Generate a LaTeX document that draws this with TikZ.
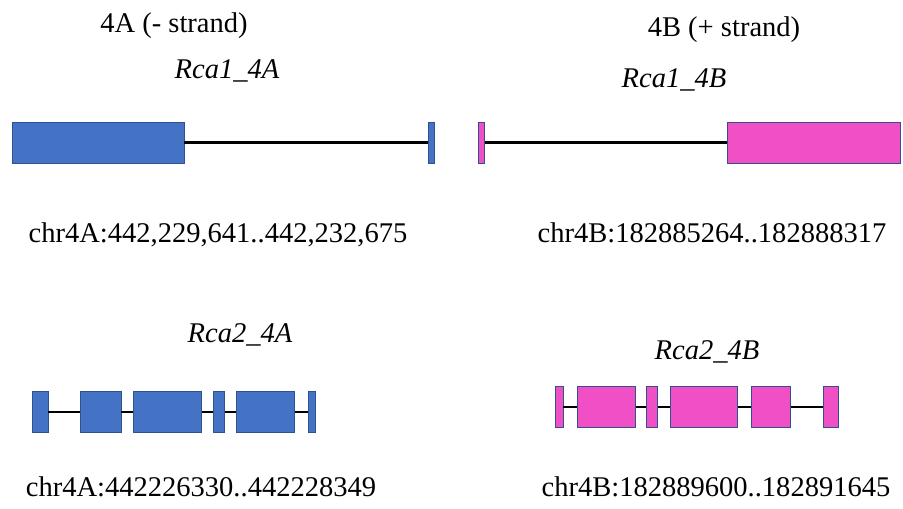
\documentclass[tikz,border=0pt]{standalone}
\usepackage{fontspec}
\setmainfont{Liberation Serif}
\usetikzlibrary{fit}

\definecolor{exonblue}{RGB}{68,114,196}
\definecolor{exonpink}{RGB}{241,79,197}
\definecolor{exonedge}{RGB}{47,82,143}

\tikzset{
    exonA/.style={draw=exonedge, fill=exonblue, line width=0.6pt, inner sep=0pt},
    exonB/.style={draw=exonedge, fill=exonpink, line width=0.6pt, inner sep=0pt},
    intron/.style={line width=1.8pt, black},
    lbl/.style={anchor=base, inner sep=0pt, font=\fontsize{21.4}{25}\selectfont},
    genename/.style={lbl, font=\fontsize{21.4}{25}\selectfont\itshape}
}

\begin{document}
\begin{tikzpicture}[x=0.75pt, y=-0.75pt]
        \useasboundingbox (0,0) rectangle (903,509);

        % Strand headings
        \node[lbl] (strA) at (174,33) {4A (- strand)};
        \node[lbl] (strB) at (724,37) {4B (+ strand)};

        % Rca1 gene names
        \node[genename] (rcaoneA) at (227,79) {Rca1\_4A};
        \node[genename] (rcaoneB) at (674,88) {Rca1\_4B};

        % Rca1_4A exons
        \node[exonA, fit={(12,122) (184,163)}] (a1) {};
        \node[exonA, fit={(428,122) (434,163)}] (a2) {};
        \draw[intron] (a1.east) -- (a2.west); % intron

        % Rca1_4B exons
        \node[exonB, fit={(478.3,122) (484.3,163)}] (b1) {};
        \node[exonB, fit={(727.7,122) (900,163)}] (b2) {};
        \draw[intron] (b1.east) -- (b2.west); % intron

        % Rca1 locations
        \node[lbl] (loconeA) at (218,243) {chr4A:442,229,641..442,232,675};
        \node[lbl] (loconeB) at (712,243) {chr4B:182885264..182888317};

        % Rca2 gene names
        \node[genename] (rcatwoA) at (240,343) {Rca2\_4A};
        \node[genename] (rcatwoB) at (707,360) {Rca2\_4B};

        % Rca2_4A exons
        \node[exonA, fit={(32.7,391.7) (48,432.3)}] (c1) {};
        \node[exonA, fit={(80.3,391.7) (121,432.3)}] (c2) {};
        \node[exonA, fit={(133.7,391.7) (201.7,432.3)}] (c3) {};
        \node[exonA, fit={(213,391.7) (224.7,432.3)}] (c4) {};
        \node[exonA, fit={(236,391.7) (294.3,432.3)}] (c5) {};
        \node[exonA, fit={(308.7,391.7) (315.3,432.3)}] (c6) {};
        \foreach \i/\j in {1/2,2/3,3/4,4/5,5/6}
            \draw[intron] (c\i.east) -- (c\j.west); % introns

        % Rca2_4B exons
        \node[exonB, fit={(555.7,386.7) (563,427.7)}] (d1) {};
        \node[exonB, fit={(577.3,386.7) (635.7,427.7)}] (d2) {};
        \node[exonB, fit={(646.3,386.7) (657.7,427.7)}] (d3) {};
        \node[exonB, fit={(670,386.7) (737.7,427.7)}] (d4) {};
        \node[exonB, fit={(751,386.7) (790.7,427.7)}] (d5) {};
        \node[exonB, fit={(823.7,386.7) (838.7,427.7)}] (d6) {};
        \foreach \i/\j in {1/2,2/3,3/4,4/5,5/6}
            \draw[intron] (d\i.east) -- (d\j.west); % introns

        % Rca2 locations
        \node[lbl] (loctwoA) at (201,496) {chr4A:442226330..442228349};
        \node[lbl] (loctwoB) at (716,496) {chr4B:182889600..182891645};

    \end{tikzpicture}
\end{document}
